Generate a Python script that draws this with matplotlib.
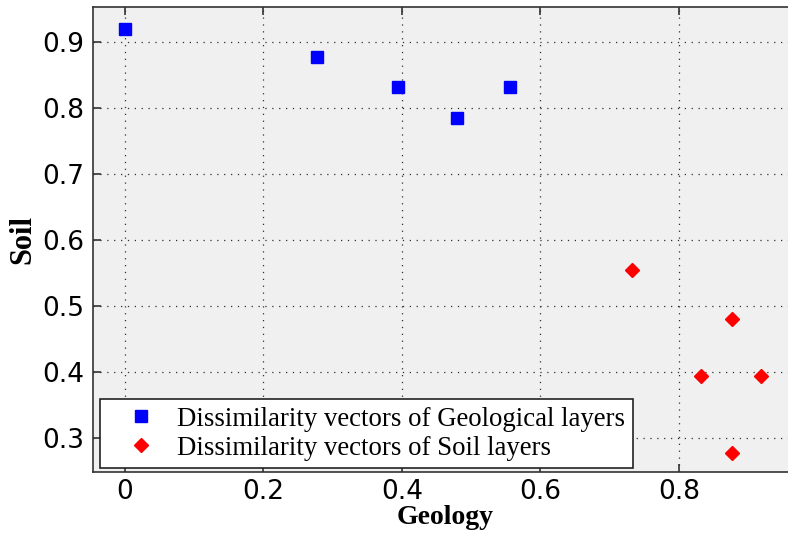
import matplotlib
matplotlib.use("Agg")
import matplotlib.pyplot as plt

geo_x = [0.0, 0.278, 0.394, 0.480, 0.556]
geo_y = [0.920, 0.877, 0.832, 0.785, 0.832]
soil_x = [0.733, 0.877, 0.832, 0.918, 0.877]
soil_y = [0.555, 0.481, 0.394, 0.394, 0.278]
xticks = [0, 0.2, 0.4, 0.6, 0.8]
xticklabels = ["0", "0.2", "0.4", "0.6", "0.8"]
yticks = [0.3, 0.4, 0.5, 0.6, 0.7, 0.8, 0.9]
yticklabels = ["0.3", "0.4", "0.5", "0.6", "0.7", "0.8", "0.9"]

fig = plt.figure(figsize=(7.88, 5.34), dpi=100)
W, H = 788, 534
left_px, top_px, bottom_px = 93, 7, 472
xmin, xmax = -0.046, 0.97
px_per_x = 692.5
width_px = (xmax - xmin) * px_per_x
ax = fig.add_axes([left_px / W, (H - bottom_px) / H, width_px / W, (bottom_px - top_px) / H])
ax.set_facecolor("#f0f0f0")

ax.plot(geo_x, geo_y, linestyle="none", marker="s", markersize=9,
        color="#0000ff", label="Dissimilarity vectors of Geological layers")
ax.plot(soil_x, soil_y, linestyle="none", marker="D", markersize=6.8,
        color="#ff0000", label="Dissimilarity vectors of Soil layers")

ax.set_xlim(xmin, xmax)
ax.set_ylim(0.2485, 0.953)
ax.set_xticks(xticks)
ax.set_xticklabels(xticklabels)
ax.set_yticks(yticks)
ax.set_yticklabels(yticklabels)
ax.grid(True, color="#303030", linestyle=(0, (1, 4.5)), linewidth=0.9)
ax.set_axisbelow(True)
ax.tick_params(direction="in", length=6, width=1.2, top=True, right=True,
               labelsize=19, color="#333333", pad=6)
ax.tick_params(axis="x", pad=5)
for lbl in ax.get_xticklabels() + ax.get_yticklabels():
    lbl.set_family("DejaVu Sans")
for s in ax.spines.values():
    s.set_color("#333333")
    s.set_linewidth(1.2)

ax.set_xlabel("Geology", family="Liberation Serif", fontweight="bold", fontsize=20, labelpad=0)
ax.set_ylabel("Soil", family="Liberation Serif", fontweight="bold", fontsize=22, labelpad=4)

leg = ax.legend(loc="upper left", bbox_to_anchor=(100 / W, 1 - 399 / H),
                bbox_transform=fig.transFigure, prop={"family": "Liberation Serif", "size": 19.3},
                frameon=True, fancybox=False, borderpad=0.28, handletextpad=0.1,
                labelspacing=0.15, borderaxespad=0, handlelength=2.5)
leg.get_frame().set_edgecolor("#222222")
leg.get_frame().set_linewidth(1.2)
leg.get_frame().set_facecolor("white")
leg.get_frame().set_alpha(1)

fig.savefig("out.png", dpi=100)
